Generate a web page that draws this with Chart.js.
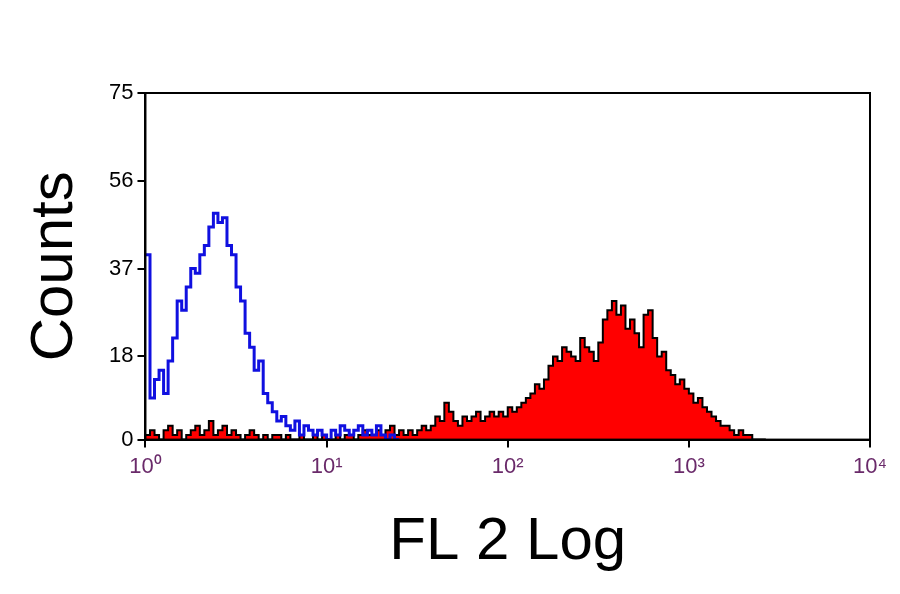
<!DOCTYPE html>
<html>
<head>
<meta charset="utf-8">
<script src="https://cdn.jsdelivr.net/npm/chart.js@4"></script>
<style>
  body { margin: 0; background: #fff; }
  canvas { display: block; }
</style>
</head>
<body>
<canvas id="chart" width="900" height="594"></canvas>
<script>
// bins are spaced 0.025 decades apart, starting at 10^0
const binStep = 0.025;
const redCounts = [
  1, 2, 1, 0, 2, 3, 1, 2, 0, 1, 2,
  3, 1, 2, 4, 1, 2, 3, 1, 2, 1,
  0, 1, 2, 1, 0, 1, 0, 1, 1, 0, 1, 0, 0, 1, 0, 0, 1, 0, 1, 0,
  0, 1, 0, 1, 1, 0, 1, 2, 1, 1, 2, 1, 2, 3, 1, 2, 1, 2, 1, 2,
  3, 2, 3, 5, 4, 8, 6, 4, 3, 5, 4, 5, 6, 4, 5, 6, 5, 6, 5, 7,
  6, 7, 8, 9, 10, 12, 11, 13, 16, 18, 17, 20, 19, 18, 17, 22, 20, 19, 17, 21,
  26, 28, 30, 27, 29, 24, 26, 23, 20, 27, 28, 22, 18, 19, 15, 14, 12, 13, 11, 10,
  8, 9, 7, 6, 5, 4, 3, 3, 2, 1, 2, 1, 1, 0, 0, 0, 0,
];
const blueCounts = [
  40, 9, 13, 15, 10, 17, 22, 30, 28, 33, 37, 36, 40, 42, 46, 49, 47, 48, 42, 40,
  33, 30, 23, 20, 15, 17, 10, 8, 6, 4, 5, 3, 2, 4, 1, 3, 2, 1, 2, 1,
  0, 2, 1, 3, 2, 1, 2, 3, 1, 2, 1, 3, 1, 0, 1, 0, 0,
];
const yTicks = [0, 18, 37, 56, 75];
const xTicks = [0, 1, 2, 3, 4];
const superscripts = ["⁰", "¹", "²", "³", "⁴"];

const toPoints = (counts) => counts.map((y, i) => ({ x: i * binStep, y }));

const frame = {
  id: "frame",
  afterDraw(chart) {
    const { ctx, chartArea: a } = chart;
    ctx.save();
    ctx.strokeStyle = "#000";
    ctx.lineWidth = 2;
    ctx.strokeRect(a.left, a.top, a.right - a.left, a.bottom - a.top);
    ctx.restore();
  },
};

new Chart(document.getElementById("chart"), {
  type: "line",
  data: {
    datasets: [
      {
        data: toPoints(blueCounts),
        borderColor: "#1010e0",
        borderWidth: 3,
        stepped: true,
        fill: false,
        pointRadius: 0,
      },
      {
        data: toPoints(redCounts),
        borderColor: "#000",
        backgroundColor: "#ff0000",
        borderWidth: 2,
        stepped: true,
        fill: "origin",
        pointRadius: 0,
      },
    ],
  },
  options: {
    responsive: false,
    animation: false,
    layout: { padding: { top: 93, right: 30, left: 15, bottom: 12 } },
    plugins: { legend: { display: false }, tooltip: { enabled: false } },
    scales: {
      x: {
        type: "linear",
        min: 0,
        max: 4,
        afterBuildTicks: (s) => (s.ticks = xTicks.map((v) => ({ value: v }))),
        ticks: {
          callback: (v) => "10" + superscripts[v],
          color: "#6a2a6a",
          font: { family: "Liberation Sans", size: 22 },
          padding: 6,
        },
        grid: { drawOnChartArea: false, tickLength: 8, color: "#000", lineWidth: 2 },
        border: { color: "#000", width: 2 },
        title: {
          display: true,
          text: "FL 2 Log",
          color: "#000",
          font: { family: "Liberation Sans", size: 60 },
          padding: { top: 20 },
        },
      },
      y: {
        min: 0,
        max: 75,
        afterBuildTicks: (s) => (s.ticks = yTicks.map((v) => ({ value: v }))),
        ticks: {
          color: "#000",
          font: { family: "Liberation Sans", size: 22 },
          padding: 4,
        },
        grid: { drawOnChartArea: false, tickLength: 8, color: "#000", lineWidth: 2 },
        border: { color: "#000", width: 2 },
        title: {
          display: true,
          text: "Counts",
          color: "#000",
          font: { family: "Liberation Sans", size: 60 },
          padding: { bottom: 14 },
        },
      },
    },
  },
  plugins: [frame],
});
</script>
</body>
</html>
